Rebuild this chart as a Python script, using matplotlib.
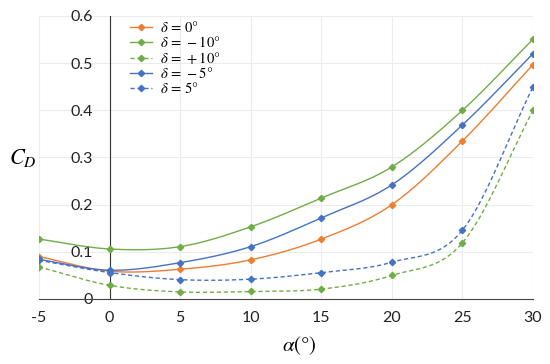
import numpy as np
import matplotlib
matplotlib.use("Agg")
import matplotlib.pyplot as plt

plt.rcParams['font.family'] = ['Lato', 'DejaVu Sans']
plt.rcParams['mathtext.fontset'] = 'stix'

alpha = [-5, 0, 5, 10, 15, 20, 25, 30]
cd_d0 = [0.090, 0.059, 0.063, 0.083, 0.127, 0.200, 0.335, 0.497]
cd_dm10 = [0.127, 0.106, 0.111, 0.153, 0.214, 0.280, 0.400, 0.551]
cd_dp10 = [0.068, 0.029, 0.015, 0.016, 0.021, 0.050, 0.119, 0.400]
cd_dm5 = [0.084, 0.061, 0.077, 0.111, 0.172, 0.242, 0.369, 0.520]
cd_dp5 = [0.082, 0.056, 0.041, 0.042, 0.056, 0.078, 0.146, 0.450]

labels = [r'$\delta\,=\,0°$', r'$\delta\,=\,-10°$', r'$\delta\,=\,+10°$',
          r'$\delta\,=\,-5°$', r'$\delta\,=\,5°$']
colors = ['#ED7D31', '#70AD47', '#70AD47', '#4472C4', '#4472C4']
styles = ['-', '-', '--', '-', '--']
series = [cd_d0, cd_dm10, cd_dp10, cd_dm5, cd_dp5]

xticks = [-5, 0, 5, 10, 15, 20, 25, 30]
yticks = [0, 0.1, 0.2, 0.3, 0.4, 0.5, 0.6]
yticklabels = ['0', '0.1', '0.2', '0.3', '0.4', '0.5', '0.6']


def smooth(x, y, n=30):
    # Catmull-Rom style smoothing (display only, like spreadsheet smoothed lines)
    x = np.asarray(x, float)
    y = np.asarray(y, float)
    P = np.column_stack([x, y])
    P = np.vstack([2 * P[0] - P[1], P, 2 * P[-1] - P[-2]])
    out = []
    for i in range(1, len(P) - 2):
        p0, p1, p2, p3 = P[i - 1], P[i], P[i + 1], P[i + 2]
        c1 = p1 + (p2 - p0) / 6.0
        c2 = p2 - (p3 - p1) / 6.0
        t = np.linspace(0, 1, n)[:, None]
        b = ((1 - t) ** 3) * p1 + 3 * ((1 - t) ** 2) * t * c1 + 3 * (1 - t) * t ** 2 * c2 + t ** 3 * p2
        out.append(b if i == 1 else b[1:])
    B = np.vstack(out)
    return B[:, 0], B[:, 1]


fig = plt.figure(figsize=(5.5, 3.64), dpi=100)
ax = fig.add_axes([0.0709, 0.1786, 0.8982, 0.7775])

for y, lab, c, ls in zip(series, labels, colors, styles):
    sx, sy = smooth(alpha, y)
    ax.plot(sx, sy, color=c, ls=ls, lw=1.0, dashes=(3, 2) if ls == '--' else (None, None))
    ax.plot(alpha, y, ls='none', marker='D', ms=3.2, color=c)
    ax.plot([], [], color=c, ls=ls, lw=1.0, marker='D', ms=3.2, label=lab,
            dashes=(3, 2) if ls == '--' else (None, None))

ax.set_xlim(-5, 30)
ax.set_ylim(0, 0.6)
ax.set_xticks(xticks)
ax.set_xticklabels([str(v) for v in xticks])
ax.set_yticks(yticks)
ax.set_yticklabels(yticklabels)
ax.tick_params(length=0, labelsize=11.5, colors='#222222')
ax.tick_params(axis='x', pad=9)
ax.tick_params(axis='y', pad=12)
ax.grid(True, color='#ececec', lw=0.8)
ax.set_axisbelow(True)
for s in ['top', 'right']:
    ax.spines[s].set_visible(False)
ax.spines['left'].set_position(('data', 0))
ax.spines['left'].set_color('#333333')
ax.spines['bottom'].set_color('#444444')
ax.spines['left'].set_zorder(1)

leg = ax.legend(loc='upper left', bbox_to_anchor=(0.166, 1.018), frameon=False,
                fontsize=10.5, handlelength=1.5, handletextpad=0.6,
                labelspacing=0.0, borderaxespad=0.2)

fig.text(0.042, 0.567, r'$C_D$', fontsize=16, ha='center', va='center')
fig.text(0.545, 0.05, r'$\alpha$(°)', fontsize=15, ha='center', va='center',
         family=['STIXGeneral', 'DejaVu Serif'])

fig.savefig('out.png', dpi=100)
